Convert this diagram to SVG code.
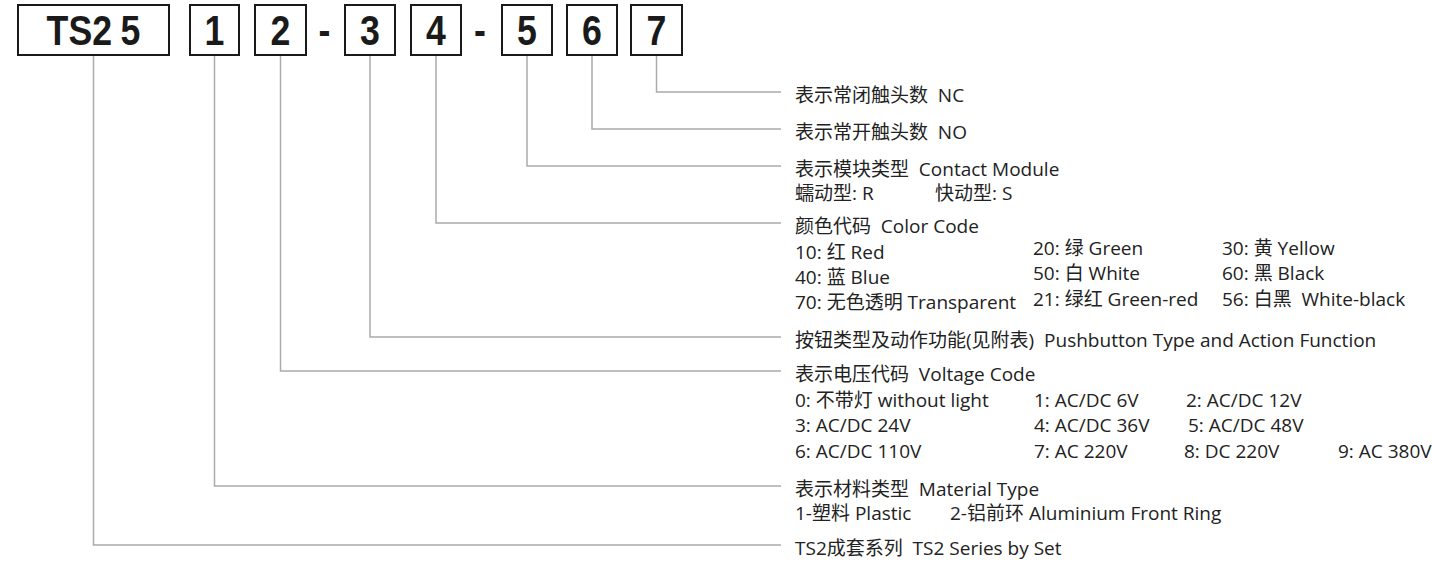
<svg xmlns="http://www.w3.org/2000/svg" width="1432" height="563" viewBox="0 0 1432 563">
<style>
.box{fill:#fff;stroke:#1a1a1a;stroke-width:2}
.code{font-family:"Liberation Sans",Arial,sans-serif;font-weight:bold;font-size:42px;fill:#1a1a1a}
.lead{fill:none;stroke:#ababab;stroke-width:1.5}
.t{font-family:"Open Sans","Noto Sans CJK SC",sans-serif;font-size:19px;fill:#222}
</style>
<rect width="1432" height="563" fill="#fff"/>
<g id="connectors">
<path class="lead" d="M93.5,55 V545 H781"/>
<path class="lead" d="M214.5,55 V486 H781"/>
<path class="lead" d="M280.5,55 V371 H781"/>
<path class="lead" d="M370,55 V337 H781"/>
<path class="lead" d="M436,55 V223 H781"/>
<path class="lead" d="M527,55 V166 H781"/>
<path class="lead" d="M592,55 V129 H781"/>
<path class="lead" d="M656.5,55 V92 H781"/>
</g>
<g id="code-ts25">
<rect class="box" x="18" y="5" width="151" height="50"/>
<text class="code" transform="translate(93.5,45) scale(0.85,1)" text-anchor="middle">TS2<tspan dx="10">5</tspan></text>
</g>
<g id="code-1"><rect class="box" x="190" y="5" width="49" height="50"/><text class="code" transform="translate(214.5,45) scale(0.85,1)" text-anchor="middle">1</text></g>
<g id="code-2"><rect class="box" x="255" y="5" width="51" height="50"/><text class="code" transform="translate(280.5,45) scale(0.85,1)" text-anchor="middle">2</text></g>
<g id="dash-1"><text class="code" transform="translate(324.5,45) scale(0.85,1)" text-anchor="middle">-</text></g>
<g id="code-3"><rect class="box" x="345" y="5" width="50" height="50"/><text class="code" transform="translate(370,45) scale(0.85,1)" text-anchor="middle">3</text></g>
<g id="code-4"><rect class="box" x="411" y="5" width="50" height="50"/><text class="code" transform="translate(436,45) scale(0.85,1)" text-anchor="middle">4</text></g>
<g id="dash-2"><text class="code" transform="translate(480,45) scale(0.85,1)" text-anchor="middle">-</text></g>
<g id="code-5"><rect class="box" x="502" y="5" width="50" height="50"/><text class="code" transform="translate(527,45) scale(0.85,1)" text-anchor="middle">5</text></g>
<g id="code-6"><rect class="box" x="567" y="5" width="50" height="50"/><text class="code" transform="translate(592,45) scale(0.85,1)" text-anchor="middle">6</text></g>
<g id="code-7"><rect class="box" x="631" y="5" width="51" height="50"/><text class="code" transform="translate(656.5,45) scale(0.85,1)" text-anchor="middle">7</text></g>

<g id="label-7"><text class="t" x="795" y="102" xml:space="preserve">表示常闭触头数  NC</text></g>
<g id="label-6"><text class="t" x="795" y="139" xml:space="preserve">表示常开触头数  NO</text></g>
<g id="label-5">
<text class="t" x="795" y="176" xml:space="preserve">表示模块类型  Contact Module</text>
<text class="t" x="795" y="200">蠕动型: R</text>
<text class="t" x="935" y="200">快动型: S</text>
</g>
<g id="label-4">
<text class="t" x="795" y="233" xml:space="preserve">颜色代码  Color Code</text>
<text class="t" x="795" y="259">10: 红 Red</text>
<text class="t" x="1033" y="255">20: 绿 Green</text>
<text class="t" x="1222" y="255">30: 黄 Yellow</text>
<text class="t" x="795" y="284">40: 蓝 Blue</text>
<text class="t" x="1033" y="280">50: 白 White</text>
<text class="t" x="1222" y="280">60: 黑 Black</text>
<text class="t" x="795" y="309">70: 无色透明 Transparent</text>
<text class="t" x="1033" y="306">21: 绿红 Green-red</text>
<text class="t" x="1222" y="306" xml:space="preserve">56: 白黑  White-black</text>
</g>
<g id="label-3"><text class="t" x="795" y="347" xml:space="preserve">按钮类型及动作功能(见附表)  Pushbutton Type and Action Function</text></g>
<g id="label-2">
<text class="t" x="795" y="381" xml:space="preserve">表示电压代码  Voltage Code</text>
<text class="t" x="795" y="407">0: 不带灯 without light</text>
<text class="t" x="1034" y="407">1: AC/DC 6V</text>
<text class="t" x="1186" y="407">2: AC/DC 12V</text>
<text class="t" x="795" y="432">3: AC/DC 24V</text>
<text class="t" x="1034" y="432">4: AC/DC 36V</text>
<text class="t" x="1188" y="432">5: AC/DC 48V</text>
<text class="t" x="795" y="458">6: AC/DC 110V</text>
<text class="t" x="1034" y="458">7: AC 220V</text>
<text class="t" x="1184" y="458">8: DC 220V</text>
<text class="t" x="1338" y="458">9: AC 380V</text>
</g>
<g id="label-1">
<text class="t" x="795" y="496" xml:space="preserve">表示材料类型  Material Type</text>
<text class="t" x="795" y="520">1-塑料 Plastic</text>
<text class="t" x="950" y="520">2-铝前环 Aluminium Front Ring</text>
</g>
<g id="label-ts25"><text class="t" x="795" y="555" xml:space="preserve">TS2成套系列  TS2 Series by Set</text></g>
</svg>
